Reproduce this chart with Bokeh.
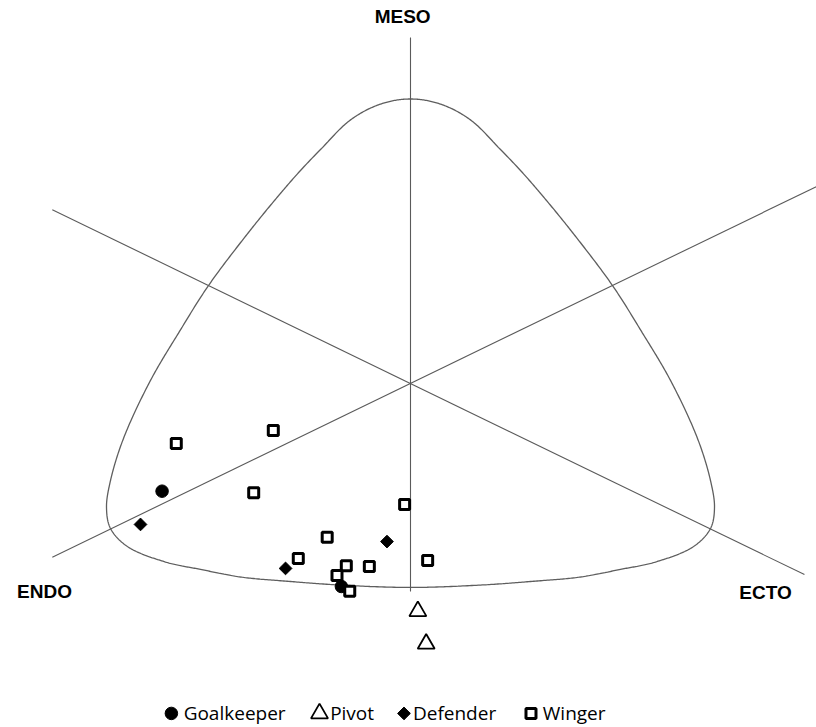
import numpy as np
from bokeh.plotting import figure
from bokeh.models import Range1d
from bokeh.core.properties import value
from bokeh.embed import file_html
from bokeh.resources import INLINE

# Somatochart coordinates: X = ecto - endo, Y = 2*meso - (endo + ecto)
goalkeeper_x = [-5.07, -1.41]
goalkeeper_y = [-4.53, -8.54]
pivot_x = [0.15, 0.32]
pivot_y = [-9.58, -10.95]
defender_x = [-5.51, -2.55, -0.48]
defender_y = [-5.93, -7.78, -6.65]
winger_x = [-4.78, -2.80, -3.20, -0.12, -1.70, -2.29, -1.31, -0.84, -1.50, -1.24, 0.35]
winger_y = [-2.52, -1.98, -4.60, -5.09, -6.47, -7.36, -7.67, -7.70, -8.08, -8.74, -7.45]

group_labels = ["Goalkeeper", "Pivot", "Defender", "Winger"]
axis_labels = ["MESO", "ENDO", "ECTO"]
axis_label_x = [-0.16, -7.47, 7.245]
axis_label_y = [15.44, -8.75, -8.79]

# legend row (drawn in chart units below the chart)
legend_marker_x = [-4.88, -1.857, -0.133, 2.459]
legend_text_x = [-4.63, -1.64, 0.05, 2.70]
legend_row_y = -13.88

# somatochart outline (right half, top to bottom; mirrored for the left half)
outline_half_x = [0.0, 0.612, 1.224, 1.816, 2.245, 2.673, 3.306, 4.122, 4.714, 5.306,
                  5.857, 6.122, 6.204, 6.122, 5.776, 5.0, 4.286, 3.469, 2.449, 1.429, 0.0]
outline_half_y = [11.97, 11.754, 11.09, 9.886, 8.961, 7.951, 6.353, 4.123, 2.19, 0.13,
                  -2.31, -4.08, -5.22, -6.10, -6.86, -7.51, -7.82, -8.14, -8.33, -8.48, -8.58]

# reference axes: meso axis (vertical) and the two diagonal axes Y = -X and Y = X
meso_axis_top, meso_axis_bottom = 14.56, -8.75
diag_left = -7.31
diag1_right = 8.04
diag2_right = 8.6

# screen scale of one unit (px) used only for smooth curve parametrisation
SX, SY = 49.0, 23.77


def centripetal_catmull_rom_closed(xs, ys, n=30, alpha=0.5):
    P = np.column_stack([np.asarray(xs) * SX, np.asarray(ys) * SY]).astype(float)
    N = len(P)
    out = []
    for i in range(N):
        p0, p1, p2, p3 = P[(i - 1) % N], P[i], P[(i + 1) % N], P[(i + 2) % N]
        t0 = 0.0
        t1 = t0 + np.linalg.norm(p1 - p0) ** alpha
        t2 = t1 + np.linalg.norm(p2 - p1) ** alpha
        t3 = t2 + np.linalg.norm(p3 - p2) ** alpha
        t = np.linspace(t1, t2, n, endpoint=False)[:, None]
        a1 = (t1 - t) / (t1 - t0) * p0 + (t - t0) / (t1 - t0) * p1
        a2 = (t2 - t) / (t2 - t1) * p1 + (t - t1) / (t2 - t1) * p2
        a3 = (t3 - t) / (t3 - t2) * p2 + (t - t2) / (t3 - t2) * p3
        b1 = (t2 - t) / (t2 - t0) * a1 + (t - t0) / (t2 - t0) * a2
        b2 = (t3 - t) / (t3 - t1) * a2 + (t - t1) / (t3 - t1) * a3
        c = (t2 - t) / (t2 - t1) * b1 + (t - t1) / (t2 - t1) * b2
        out.append(c)
    out.append(P[:1])
    C = np.vstack(out)
    return C[:, 0] / SX, C[:, 1] / SY


hx = np.array(outline_half_x)
hy = np.array(outline_half_y)
ox = np.concatenate([hx, -hx[1:-1][::-1]])
oy = np.concatenate([hy, hy[1:-1][::-1]])
cx, cy = centripetal_catmull_rom_closed(ox, oy)

p = figure(width=816, height=727, output_backend="svg", toolbar_location=None,
           x_axis_type=None, y_axis_type=None, min_border=0,
           x_range=Range1d(-8.3673, 8.2857), y_range=Range1d(-14.472, 16.1127))
p.outline_line_color = None
p.grid.visible = False
p.background_fill_color = "white"
p.border_fill_color = "white"

p.line(cx, cy, line_color="#5e5e5e", line_width=1.3)
p.segment(x0=[0, diag_left, diag_left], y0=[meso_axis_top, -diag_left, diag_left],
          x1=[0, diag1_right, diag2_right], y1=[meso_axis_bottom, -diag1_right, diag2_right],
          line_color="#5a5a5a", line_width=1.1)

p.text(x=axis_label_x, y=axis_label_y, text=axis_labels,
       text_font=value("Liberation Sans"), text_font_style="bold",
       text_font_size="19px", text_align="center", text_baseline="middle",
       text_color="black")

gk_style = dict(marker="circle", size=12.5, fill_color="black", line_color="black")
def_style = dict(marker="square", angle=np.pi / 4, size=9, fill_color="black", line_color="black")
w_style = dict(marker="square", size=10, fill_color="white", line_color="black", line_width=3)
piv_style = dict(marker="triangle", size=17, fill_color="white", line_color="black", line_width=1.8)

p.scatter(goalkeeper_x, goalkeeper_y, **gk_style)
p.scatter(defender_x, defender_y, **def_style)
p.scatter(winger_x, winger_y, **w_style)
p.scatter(pivot_x, pivot_y, **piv_style)

# legend row
ly = [legend_row_y]
p.scatter([legend_marker_x[0]], ly, **gk_style)
p.scatter([legend_marker_x[1]], ly, **piv_style)
p.scatter([legend_marker_x[2]], ly, **def_style)
p.scatter([legend_marker_x[3]], ly, **w_style)
p.text(x=legend_text_x, y=[legend_row_y] * 4, text=group_labels,
       text_font=value("Open Sans"), text_font_size="19px",
       text_align="left", text_baseline="middle", text_color="black")

open("out.html", "w").write(file_html(p, INLINE))
